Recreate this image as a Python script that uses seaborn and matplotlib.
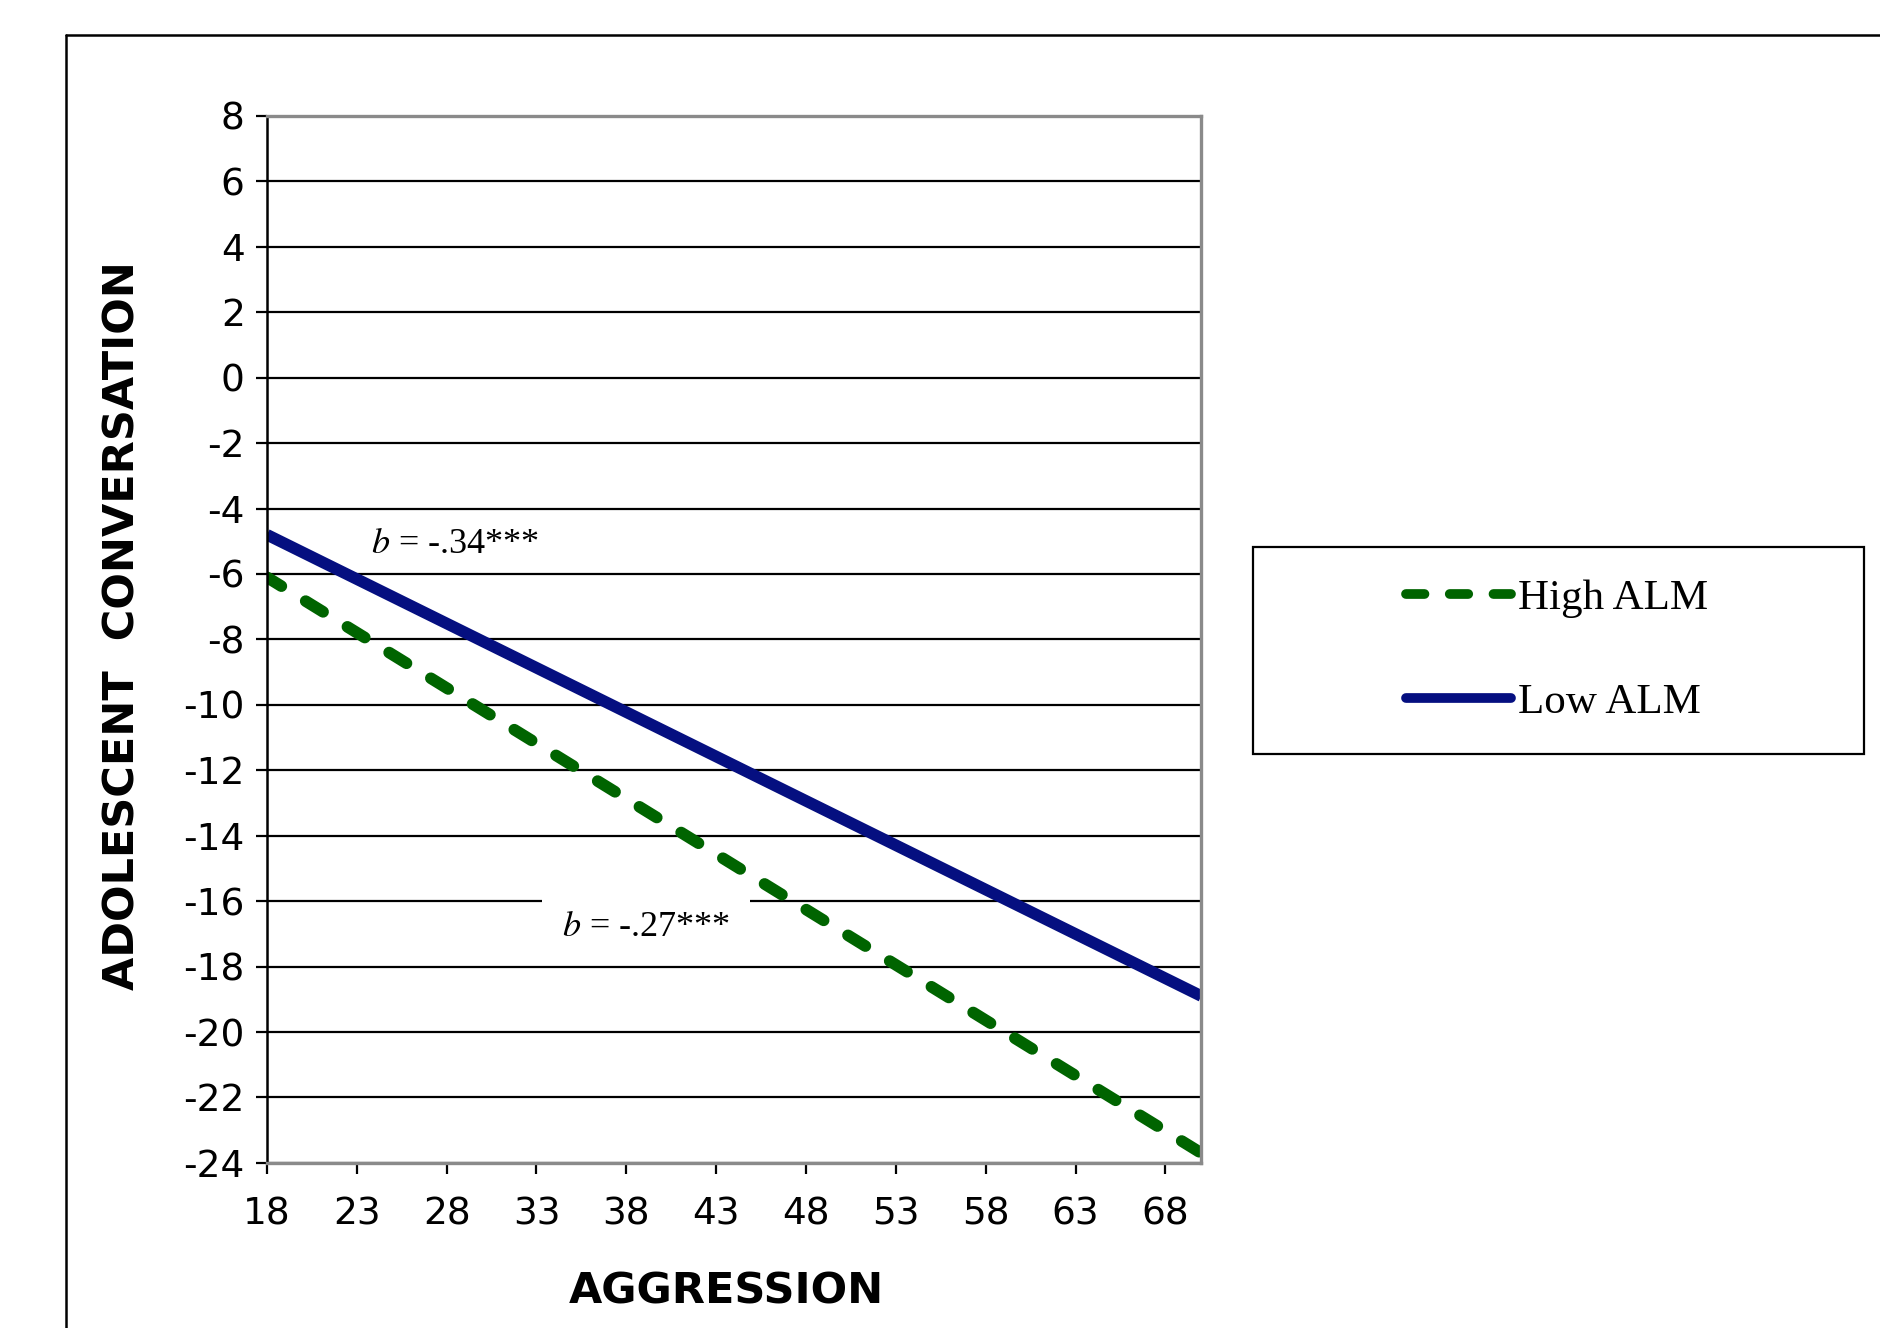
import pandas as pd
import matplotlib.pyplot as plt
import seaborn as sns
from matplotlib.lines import Line2D
from matplotlib.patches import Rectangle

# data (two end points per regression line)
aggression = [18, 70]
high_alm = [-6.1, -23.7]
low_alm = [-4.8, -18.9]
x_ticks = [18, 23, 28, 33, 38, 43, 48, 53, 58, 63, 68]
y_ticks = [8, 6, 4, 2, 0, -2, -4, -6, -8, -10, -12, -14, -16, -18, -20, -22, -24]

sns.set_style('white')
plt.rcParams['font.family'] = ['DejaVu Sans']
plt.rcParams['axes.unicode_minus'] = False
plt.rcParams['mathtext.fontset'] = 'stix'
for key in ['text.color', 'axes.labelcolor', 'xtick.color', 'ytick.color']:
    plt.rcParams[key] = 'black'

fig = plt.figure(figsize=(9.4, 6.64), dpi=200)
ax = fig.add_axes([0.142, 0.1243, 0.497, 0.7884])

high_df = pd.DataFrame({'Aggression': aggression, 'Conversation': high_alm})
low_df = pd.DataFrame({'Aggression': aggression, 'Conversation': low_alm})

sns.lineplot(data=high_df, x='Aggression', y='Conversation', color='#006400',
             linewidth=4.2, label='High ALM', ax=ax)
sns.lineplot(data=low_df, x='Aggression', y='Conversation', color='#050f80',
             linewidth=4.2, label='Low ALM', ax=ax)
ax.lines[0].set_linestyle((0.3, (1.75, 2.45)))
ax.lines[0].set_dash_capstyle('round')
ax.lines[1].set_solid_capstyle('butt')

ax.set_xlim(18, 70)
ax.set_ylim(-24, 8)
ax.set_xticks(x_ticks)
ax.set_yticks(y_ticks)
ax.set_xticklabels([str(v) for v in x_ticks], fontsize=13.5)
ax.set_yticklabels([str(v) for v in y_ticks], fontsize=13.5)
ax.tick_params(axis='both', direction='out', length=4, width=0.8, color='black',
               left=True, bottom=True, pad=4)
ax.tick_params(axis='x', pad=8)

# horizontal grid lines only
ax.set_axisbelow(True)
ax.yaxis.grid(True, color='black', linewidth=0.8, zorder=0)
ax.xaxis.grid(False)

for side in ['top', 'right', 'bottom']:
    ax.spines[side].set_color('#8a8a8a')
    ax.spines[side].set_linewidth(1.2)
ax.spines['left'].set_color('black')
ax.spines['left'].set_linewidth(0.9)

ax.set_xlabel('AGGRESSION', fontsize=15.5, fontweight='bold')
ax.set_ylabel('ADOLESCENT  CONVERSATION', fontsize=15.5, fontweight='bold')
ax.xaxis.set_label_coords(0.492, -0.103)
ax.yaxis.set_label_coords(-0.132, 0.513)

# slope annotations
ax.text(23.8, -5.1, r'$b$ = -.34***', fontsize=13, family='Liberation Serif',
        va='center', ha='left')
ax.text(34.4, -16.8, r'$b$ = -.27***', fontsize=13, family='Liberation Serif',
        va='center', ha='left', zorder=1.5,
        bbox=dict(facecolor='white', edgecolor='none', boxstyle='square,pad=0.55'))

# legend with its own frame
leg = ax.legend(loc='center', bbox_to_anchor=(0.828, 0.51),
                bbox_transform=fig.transFigure, frameon=False,
                prop={'family': 'Liberation Serif', 'size': 15.5},
                handlelength=2.45, handletextpad=0.15, labelspacing=1.5)
for h in leg.get_lines():
    h.set_linewidth(3.5)
leg.get_lines()[0].set_dashes((1.9, 2.6))
leg.get_lines()[0].set_dash_capstyle('round')
leg.get_lines()[1].set_solid_capstyle('round')
fig.patches.append(Rectangle((0.6665, 0.432), 0.325, 0.156, transform=fig.transFigure,
                             fill=False, edgecolor='black', linewidth=0.8))

# outer frame around the chart
fig.lines.append(Line2D([0.035, 1.0], [0.974, 0.974], transform=fig.transFigure,
                        color='black', linewidth=0.9))
fig.lines.append(Line2D([0.035, 0.035], [0.0, 0.974], transform=fig.transFigure,
                        color='black', linewidth=0.9))

plt.savefig('out.png', dpi=200)
